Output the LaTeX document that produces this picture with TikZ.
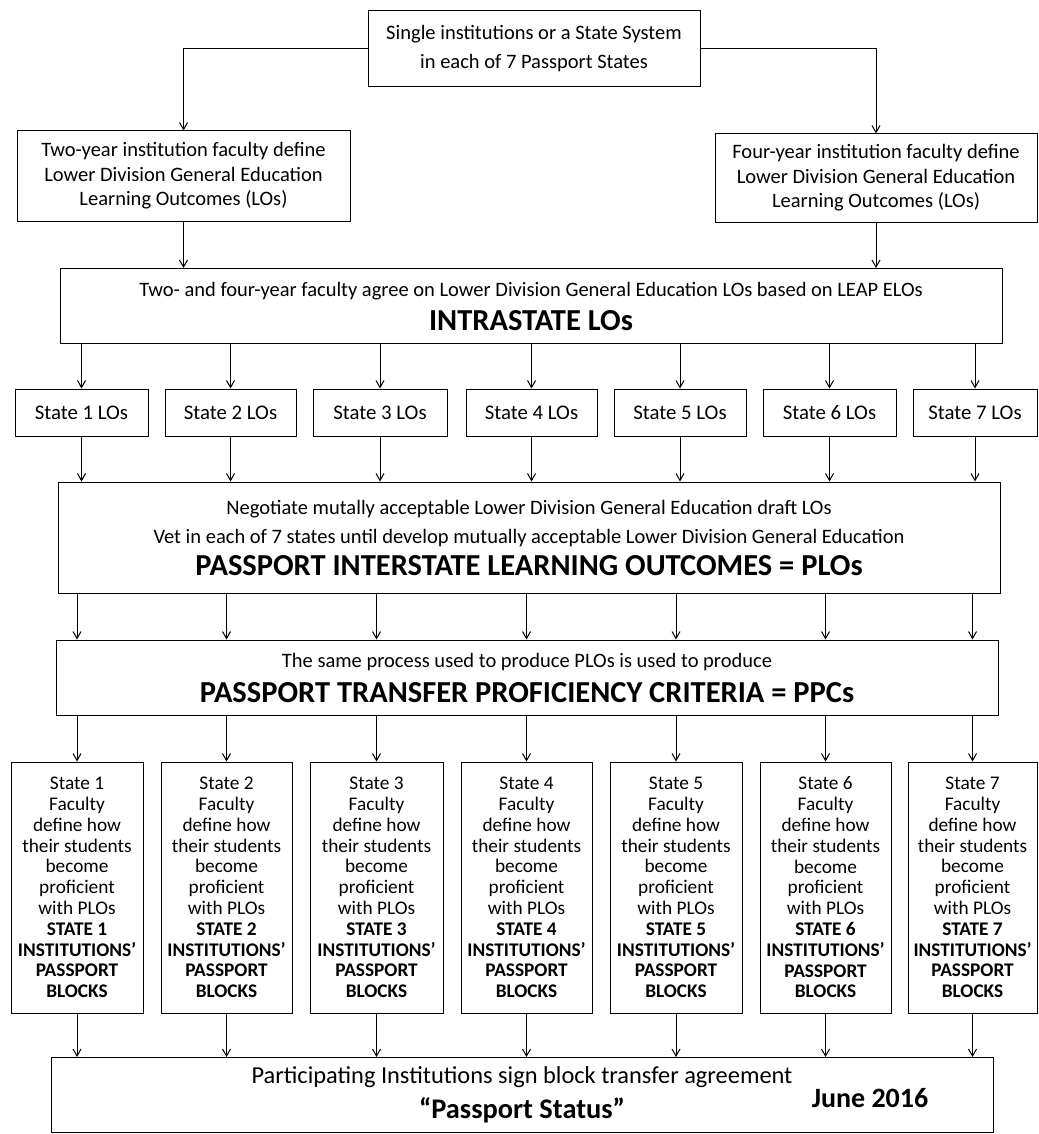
\documentclass[tikz,border=0pt]{standalone}
\usepackage{fontspec}
\setmainfont{Carlito}
\usetikzlibrary{arrows.meta}

\begin{document}
\begin{tikzpicture}[x=1pt,y=-1pt,>={Straight Barb[length=7pt,width=8pt]},
        box/.style={draw,line width=1pt,align=center,inner sep=0pt},
        plain/.style={font=\fontsize{20.5}{24.5}\selectfont},
        wide/.style={font=\fontsize{20.5}{29}\selectfont},
        link/.style={->,line width=1pt}]
        \useasboundingbox (0,0) rectangle (1038,1134);

        % draw the top box and the two faculty boxes
        \node[box,minimum width=332,minimum height=76,
              font=\fontsize{20.5}{29}\selectfont] (top) at (534,49)
              {Single institutions or a State System\\in each of 7 Passport States};
        \node[box,plain,minimum width=333,minimum height=90] (two) at (183.5,176)
              {Two-year institution faculty define\\Lower Division General Education\\Learning Outcomes (LOs)};
        \node[box,plain,minimum width=322,minimum height=88] (four) at (876,178)
              {Four-year institution faculty define\\Lower Division General Education\\Learning Outcomes (LOs)};

        % draw the intrastate box
        \node[box,wide,minimum width=942,minimum height=75] (leap) at (531,306)
              {Two- and four-year faculty agree on Lower Division General Education LOs based on LEAP ELOs\\[5pt]
               {\fontsize{30.5}{32}\selectfont\bfseries INTRASTATE LOs}};

        % draw the state LO boxes
        \foreach \i/\x/\w in {1/81.5/133,2/230.5/131,3/380/134,4/531.5/131,
                              5/680/132,6/829.5/133,7/975/124}
                \node[box,font=\fontsize{20.8}{22}\selectfont,minimum width=\w,minimum height=47]
                      (lo\i) at (\x,412.5) {State \i\ LOs};

        % draw the interstate box
        \node[box,wide,minimum width=942,minimum height=111] (plo) at (529,537.5)
              {Negotiate mutally acceptable Lower Division General Education draft LOs\\
               Vet in each of 7 states until develop mutually acceptable Lower Division General Education\\[3pt]
               {\fontsize{30.5}{32}\selectfont\bfseries PASSPORT INTERSTATE LEARNING OUTCOMES = PLOs}};

        % draw the proficiency criteria box
        \node[box,wide,minimum width=942,minimum height=75] (ppc) at (527,677.5)
              {The same process used to produce PLOs is used to produce\\[6pt]
               {\fontsize{30.5}{32}\selectfont\bfseries PASSPORT TRANSFER PROFICIENCY CRITERIA = PPCs}};

        % draw the passport blocks of each state
        \foreach \i/\x/\w in {1/77/132,2/226.5/131,3/376.5/133,4/526.5/131,
                              5/676/132,6/825.5/131,7/972.5/129}
                \node[box,font=\fontsize{19.3}{20.8}\selectfont,minimum width=\w,minimum height=251]
                      (blk\i) at (\x,887.5)
                      {State \i\\Faculty\\define how\\their students\\become\\proficient\\with PLOs\\
                       \textbf{STATE \i}\\\textbf{INSTITUTIONS’}\\\textbf{PASSPORT}\\\textbf{BLOCKS}};

        % draw the final agreement box
        \node[box,minimum width=942,minimum height=75,font=\fontsize{24.4}{29}\selectfont] (fin) at (522,1095)
              {Participating Institutions sign block transfer agreement\\[6pt]
               {\fontsize{28.4}{30}\selectfont\bfseries “Passport Status”}};
        \node[font=\fontsize{28}{30}\selectfont\bfseries] (june) at (870,1098) {June 2016};

        % draw the connectors
        \draw[link] (top.west) -| (two.north);
        \draw[link] (top.east) -| (four.north);
        \draw[link] (two.south) -- (two.south |- leap.north);
        \draw[link] (four.south) -- (four.south |- leap.north);
        \foreach \i in {1,...,7} {
                \draw[link] (lo\i.north |- leap.south) -- (lo\i.north);
                \draw[link] (lo\i.south) -- (lo\i.south |- plo.north);
                \draw[link] (blk\i.north |- plo.south) -- (blk\i.north |- ppc.north);
                \draw[link] (blk\i.north |- ppc.south) -- (blk\i.north);
                \draw[link] (blk\i.south) -- (blk\i.south |- fin.north);
        }
\end{tikzpicture}
\end{document}
